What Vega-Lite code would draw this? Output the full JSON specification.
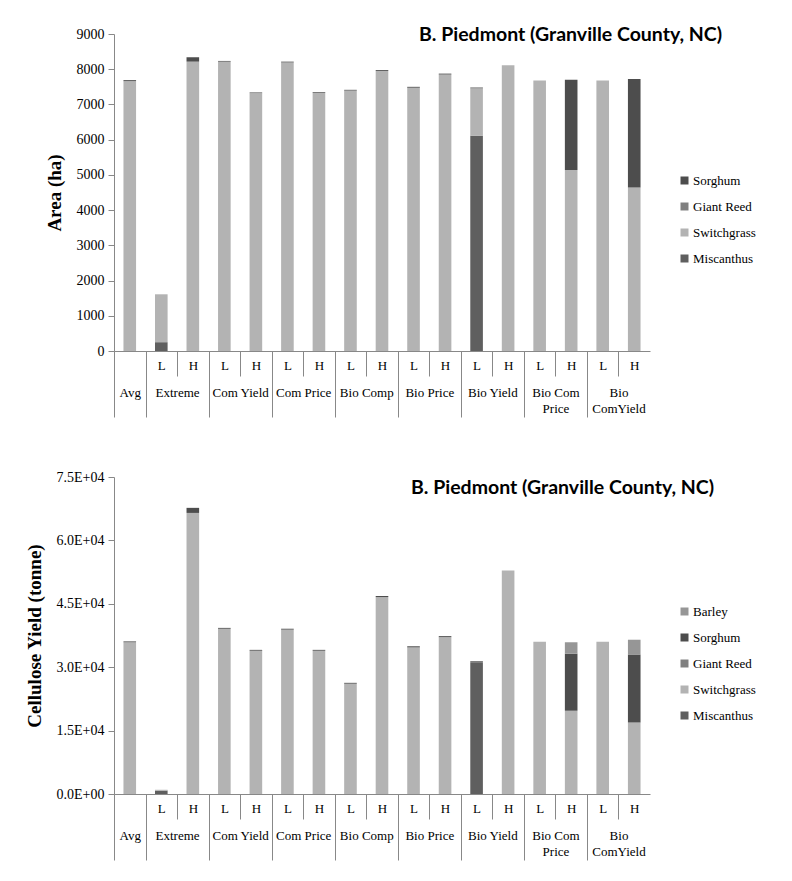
{
  "$schema": "https://vega.github.io/schema/vega-lite/v6.json",
  "padding": {"left": 25, "top": 24, "right": 5, "bottom": 5},
  "background": "white",
  "config": {
    "view": {"stroke": null},
    "axis": {"grid": false, "domainColor": "#888888", "tickColor": "#888888", "labelColor": "#000000", "labelFont": "Liberation Serif", "titleFont": "Liberation Serif", "titleColor": "#000000"},
    "legend": {"labelFont": "Liberation Serif", "labelColor": "#000000"}
  },
  "vconcat": [
    {
      "width": 536,
      "height": 317,
      "data": {"values": [
        {"scenario": "Avg", "crop": "Switchgrass", "value": 7660},
        {"scenario": "Avg", "crop": "Sorghum", "value": 30},
        {"scenario": "Extreme|L", "crop": "Miscanthus", "value": 250},
        {"scenario": "Extreme|L", "crop": "Switchgrass", "value": 1360},
        {"scenario": "Extreme|H", "crop": "Switchgrass", "value": 8215},
        {"scenario": "Extreme|H", "crop": "Sorghum", "value": 125},
        {"scenario": "Com Yield|L", "crop": "Switchgrass", "value": 8215},
        {"scenario": "Com Yield|L", "crop": "Sorghum", "value": 20},
        {"scenario": "Com Yield|H", "crop": "Switchgrass", "value": 7320},
        {"scenario": "Com Yield|H", "crop": "Sorghum", "value": 20},
        {"scenario": "Com Price|L", "crop": "Switchgrass", "value": 8195},
        {"scenario": "Com Price|L", "crop": "Sorghum", "value": 20},
        {"scenario": "Com Price|H", "crop": "Switchgrass", "value": 7330},
        {"scenario": "Com Price|H", "crop": "Sorghum", "value": 20},
        {"scenario": "Bio Comp|L", "crop": "Switchgrass", "value": 7395},
        {"scenario": "Bio Comp|L", "crop": "Sorghum", "value": 20},
        {"scenario": "Bio Comp|H", "crop": "Switchgrass", "value": 7950},
        {"scenario": "Bio Comp|H", "crop": "Sorghum", "value": 25},
        {"scenario": "Bio Price|L", "crop": "Switchgrass", "value": 7475},
        {"scenario": "Bio Price|L", "crop": "Sorghum", "value": 25},
        {"scenario": "Bio Price|H", "crop": "Switchgrass", "value": 7850},
        {"scenario": "Bio Price|H", "crop": "Sorghum", "value": 25},
        {"scenario": "Bio Yield|L", "crop": "Miscanthus", "value": 6110},
        {"scenario": "Bio Yield|L", "crop": "Switchgrass", "value": 1350},
        {"scenario": "Bio Yield|L", "crop": "Sorghum", "value": 20},
        {"scenario": "Bio Yield|H", "crop": "Switchgrass", "value": 8113},
        {"scenario": "Bio Com Price|L", "crop": "Switchgrass", "value": 7680},
        {"scenario": "Bio Com Price|H", "crop": "Switchgrass", "value": 5140},
        {"scenario": "Bio Com Price|H", "crop": "Sorghum", "value": 2560},
        {"scenario": "Bio ComYield|L", "crop": "Switchgrass", "value": 7680},
        {"scenario": "Bio ComYield|H", "crop": "Switchgrass", "value": 4640},
        {"scenario": "Bio ComYield|H", "crop": "Sorghum", "value": 3080}
      ]},
      "transform": [{"calculate": "indexof(['Miscanthus', 'Switchgrass', 'Giant Reed', 'Sorghum', 'Barley'], datum.crop)", "as": "stackOrder"}],
      "title": {"text": "B. Piedmont (Granville County, NC)", "anchor": "start", "frame": "group", "dx": 305, "offset": -18, "font": "Lato", "fontSize": 19.5, "fontWeight": "bold", "color": "#000000"},
      "layer": [
        {
          "mark": {"type": "bar"},
          "encoding": {
            "x": {"field": "scenario", "type": "nominal", "sort": null, "scale": {"paddingInner": 0.6, "paddingOuter": 0.3},
              "axis": {"orient": "bottom", "title": null, "labelAngle": 0, "bandPosition": 0, "tickOffset": -9.45, "labelOffset": 9.45, "tickSize": 25, "labelPadding": -17, "labelFontSize": 13, "labelFont": "Liberation Serif",
                "labelExpr": "indexof(datum.value, '|') > 0 ? substring(datum.value, indexof(datum.value, '|') + 1) : ''"}},
            "y": {"field": "value", "type": "quantitative", "stack": "zero", "scale": {"domain": [0, 9000], "nice": false},
              "axis": {"title": "Area (ha)", "values": [0, 1000, 2000, 3000, 4000, 5000, 6000, 7000, 8000, 9000], "format": "d", "tickSize": 6, "labelPadding": 4, "labelFont": "Liberation Serif", "labelFontSize": 14, "titleFontSize": 19, "titleFontWeight": "bold", "titlePadding": 12}},
            "color": {"field": "crop", "type": "nominal",
              "scale": {"domain": ["Sorghum", "Giant Reed", "Switchgrass", "Miscanthus"], "range": ["#4d4d4d", "#808080", "#b3b3b3", "#5f5f5f"]},
              "legend": {"orient": "none", "legendX": 564, "legendY": 140, "title": null, "symbolType": "square", "symbolSize": 64, "symbolStrokeWidth": 0, "labelFont": "Liberation Serif", "labelFontSize": 13, "rowPadding": 12, "labelOffset": 2, "padding": 0}},
            "order": {"field": "stackOrder", "type": "quantitative"}
          }
        },
        {
          "mark": {"type": "bar", "opacity": 0},
          "encoding": {
            "x": {"field": "scenario", "type": "nominal", "sort": null, "scale": {"paddingInner": 0.6, "paddingOuter": 0.3},
              "axis": {"orient": "bottom", "title": null, "labelAngle": 0, "domain": false, "bandPosition": 0, "tickOffset": -9.45, "tickSize": 66, "labelPadding": -31, "labelFontSize": 13, "labelFont": "Liberation Serif", "labelLineHeight": 16,
                "tickOpacity": {"condition": {"test": "datum.value == 'Avg' || indexof(datum.value, '|L') > 0", "value": 1}, "value": 0},
                "labelOffset": {"condition": {"test": "datum.value == 'Avg'", "value": 9.45}, "value": -6.3},
                "labelExpr": "datum.value == 'Avg' ? 'Avg' : (indexof(datum.value, '|H') > 0 ? (datum.value == 'Bio Com Price|H' ? ['Bio Com', 'Price'] : (datum.value == 'Bio ComYield|H' ? ['Bio', 'ComYield'] : substring(datum.value, 0, indexof(datum.value, '|')))) : '')"}}
          }
        }
      ],
      "resolve": {"axis": {"x": "independent"}}
    },
    {
      "width": 536,
      "height": 317,
      "data": {"values": [
        {"scenario": "Avg", "crop": "Switchgrass", "value": 35900},
        {"scenario": "Avg", "crop": "Sorghum", "value": 200},
        {"scenario": "Extreme|L", "crop": "Miscanthus", "value": 800},
        {"scenario": "Extreme|L", "crop": "Switchgrass", "value": 200},
        {"scenario": "Extreme|H", "crop": "Switchgrass", "value": 66500},
        {"scenario": "Extreme|H", "crop": "Sorghum", "value": 1200},
        {"scenario": "Com Yield|L", "crop": "Switchgrass", "value": 39100},
        {"scenario": "Com Yield|L", "crop": "Sorghum", "value": 200},
        {"scenario": "Com Yield|H", "crop": "Switchgrass", "value": 33900},
        {"scenario": "Com Yield|H", "crop": "Sorghum", "value": 200},
        {"scenario": "Com Price|L", "crop": "Switchgrass", "value": 38900},
        {"scenario": "Com Price|L", "crop": "Sorghum", "value": 200},
        {"scenario": "Com Price|H", "crop": "Switchgrass", "value": 33900},
        {"scenario": "Com Price|H", "crop": "Sorghum", "value": 200},
        {"scenario": "Bio Comp|L", "crop": "Switchgrass", "value": 26100},
        {"scenario": "Bio Comp|L", "crop": "Sorghum", "value": 200},
        {"scenario": "Bio Comp|H", "crop": "Switchgrass", "value": 46600},
        {"scenario": "Bio Comp|H", "crop": "Sorghum", "value": 250},
        {"scenario": "Bio Price|L", "crop": "Switchgrass", "value": 34700},
        {"scenario": "Bio Price|L", "crop": "Sorghum", "value": 250},
        {"scenario": "Bio Price|H", "crop": "Switchgrass", "value": 37100},
        {"scenario": "Bio Price|H", "crop": "Sorghum", "value": 250},
        {"scenario": "Bio Yield|L", "crop": "Miscanthus", "value": 31200},
        {"scenario": "Bio Yield|L", "crop": "Sorghum", "value": 200},
        {"scenario": "Bio Yield|H", "crop": "Switchgrass", "value": 52900},
        {"scenario": "Bio Com Price|L", "crop": "Switchgrass", "value": 36000},
        {"scenario": "Bio Com Price|H", "crop": "Switchgrass", "value": 19700},
        {"scenario": "Bio Com Price|H", "crop": "Sorghum", "value": 13500},
        {"scenario": "Bio Com Price|H", "crop": "Barley", "value": 2700},
        {"scenario": "Bio ComYield|L", "crop": "Switchgrass", "value": 36000},
        {"scenario": "Bio ComYield|H", "crop": "Switchgrass", "value": 16900},
        {"scenario": "Bio ComYield|H", "crop": "Sorghum", "value": 16100},
        {"scenario": "Bio ComYield|H", "crop": "Barley", "value": 3500}
      ]},
      "transform": [{"calculate": "indexof(['Miscanthus', 'Switchgrass', 'Giant Reed', 'Sorghum', 'Barley'], datum.crop)", "as": "stackOrder"}],
      "title": {"text": "B. Piedmont (Granville County, NC)", "anchor": "start", "frame": "group", "dx": 297, "offset": -28, "font": "Lato", "fontSize": 19.5, "fontWeight": "bold", "color": "#000000"},
      "layer": [
        {
          "mark": {"type": "bar"},
          "encoding": {
            "x": {"field": "scenario", "type": "nominal", "sort": null, "scale": {"paddingInner": 0.6, "paddingOuter": 0.3},
              "axis": {"orient": "bottom", "title": null, "labelAngle": 0, "bandPosition": 0, "tickOffset": -9.45, "labelOffset": 9.45, "tickSize": 25, "labelPadding": -17, "labelFontSize": 13, "labelFont": "Liberation Serif",
                "labelExpr": "indexof(datum.value, '|') > 0 ? substring(datum.value, indexof(datum.value, '|') + 1) : ''"}},
            "y": {"field": "value", "type": "quantitative", "stack": "zero", "scale": {"domain": [0, 75000], "nice": false},
              "axis": {"title": "Cellulose Yield (tonne)", "values": [0, 15000, 30000, 45000, 60000, 75000], "tickSize": 6, "labelPadding": 4, "labelFont": "Liberation Serif", "labelFontSize": 14, "titleFontSize": 19, "titleFontWeight": "bold", "titlePadding": 12,
                "labelExpr": "datum.value == 0 ? '0.0E+00' : format(datum.value / 10000, '.1f') + 'E+04'"}},
            "color": {"field": "crop", "type": "nominal",
              "scale": {"domain": ["Barley", "Sorghum", "Giant Reed", "Switchgrass", "Miscanthus"], "range": ["#969696", "#4d4d4d", "#808080", "#b3b3b3", "#5f5f5f"]},
              "legend": {"orient": "none", "legendX": 564, "legendY": 128, "title": null, "symbolType": "square", "symbolSize": 64, "symbolStrokeWidth": 0, "labelFont": "Liberation Serif", "labelFontSize": 13, "rowPadding": 12, "labelOffset": 2, "padding": 0}},
            "order": {"field": "stackOrder", "type": "quantitative"}
          }
        },
        {
          "mark": {"type": "bar", "opacity": 0},
          "encoding": {
            "x": {"field": "scenario", "type": "nominal", "sort": null, "scale": {"paddingInner": 0.6, "paddingOuter": 0.3},
              "axis": {"orient": "bottom", "title": null, "labelAngle": 0, "domain": false, "bandPosition": 0, "tickOffset": -9.45, "tickSize": 66, "labelPadding": -31, "labelFontSize": 13, "labelFont": "Liberation Serif", "labelLineHeight": 16,
                "tickOpacity": {"condition": {"test": "datum.value == 'Avg' || indexof(datum.value, '|L') > 0", "value": 1}, "value": 0},
                "labelOffset": {"condition": {"test": "datum.value == 'Avg'", "value": 9.45}, "value": -6.3},
                "labelExpr": "datum.value == 'Avg' ? 'Avg' : (indexof(datum.value, '|H') > 0 ? (datum.value == 'Bio Com Price|H' ? ['Bio Com', 'Price'] : (datum.value == 'Bio ComYield|H' ? ['Bio', 'ComYield'] : substring(datum.value, 0, indexof(datum.value, '|')))) : '')"}}
          }
        }
      ],
      "resolve": {"axis": {"x": "independent"}}
    }
  ],
  "resolve": {"scale": {"color": "independent"}},
  "spacing": 52
}
